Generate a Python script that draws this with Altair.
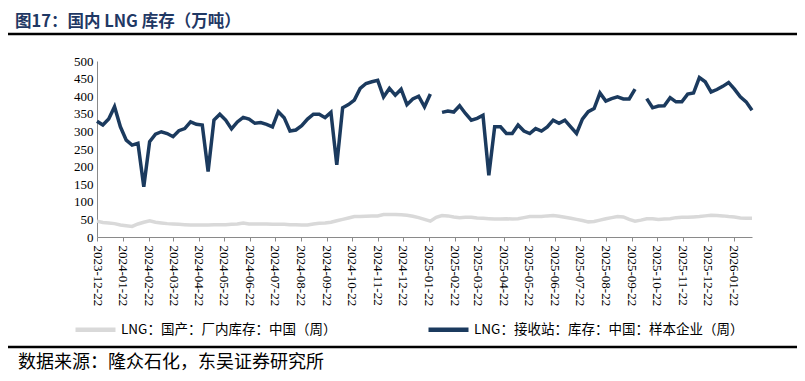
import altair as alt
import pandas as pd

dates = pd.date_range("2023-12-22", periods=113, freq="7D").strftime("%Y-%m-%d").tolist()

gray_name = "LNG：国产：厂内库存：中国（周）"
dark_name = "LNG：接收站：库存：中国：样本企业（周）"

gray_vals = [45, 41, 40, 38, 34, 32, 30, 37, 42, 46, 42, 40, 38, 37, 36, 35, 34, 34, 34, 34,
             35, 35, 35, 36, 37, 40, 37, 37, 37, 37, 36, 36, 36, 35, 35, 34, 34, 37, 39, 40,
             42, 46, 50, 54, 58, 58, 59, 60, 60, 64, 64, 64, 63, 62, 59, 55, 50, 45, 56, 61,
             60, 57, 55, 56, 56, 54, 53, 52, 51, 51, 52, 51, 52, 55, 58, 58, 58, 60, 61, 59,
             56, 53, 50, 47, 43, 44, 48, 52, 55, 58, 57, 50, 45, 48, 52, 52, 50, 51, 52, 55,
             56, 56, 57, 58, 60, 62, 61, 60, 58, 57, 54, 53, 53]

dark_vals = [329, 318, 335, 370, 313, 275, 261, 266, 143, 271, 292, 299, 294, 285, 302, 308,
             327, 320, 318, 186, 332, 349, 332, 307, 327, 340, 335, 323, 325, 320, 313, 356,
             339, 301, 304, 316, 335, 349, 349, 339, 354, 205, 367, 376, 389, 422, 436, 441,
             445, 398, 422, 403, 420, 376, 392, 400, 370, 406, None, 354, 358, 355, 373, 351,
             332, 337, 346, 175, 313, 313, 294, 294, 318, 301, 294, 308, 301, 313, 332, 323,
             332, 313, 294, 335, 356, 365, 409, 386, 393, 398, 392, 392, 420, None, 393, 367,
             372, 373, 396, 384, 384, 406, 409, 453, 441, 412, 419, 428, 439, 420, 398, 384, 360]

tick_dates = ["2023-12-22", "2024-01-22", "2024-02-22", "2024-03-22", "2024-04-22",
              "2024-05-22", "2024-06-22", "2024-07-22", "2024-08-22", "2024-09-22",
              "2024-10-22", "2024-11-22", "2024-12-22", "2025-01-22", "2025-02-22",
              "2025-03-22", "2025-04-22", "2025-05-22", "2025-06-22", "2025-07-22",
              "2025-08-22", "2025-09-22", "2025-10-22", "2025-11-22", "2025-12-22",
              "2026-01-22"]

y_ticks = [0, 50, 100, 150, 200, 250, 300, 350, 400, 450, 500]

title_text = "图17：国内 LNG 库存（万吨）"
source_text = "数据来源：隆众石化，东吴证券研究所"

rows = []
for d, v in zip(dates, gray_vals):
    rows.append({"date": d, "value": v, "series": gray_name})
for d, v in zip(dates, dark_vals):
    rows.append({"date": d, "value": v, "series": dark_name})
df = pd.DataFrame(rows)


def dt(s):
    y, m, d = s.split("-")
    return alt.DateTime(year=int(y), month=int(m), date=int(d), utc=True)


lines = alt.Chart(df).mark_line(strokeWidth=3.5, invalid="break-paths-filter-domains").encode(
    x=alt.X("date:T",
            scale=alt.Scale(type="utc", domain=[dt("2023-12-22"), dt("2026-02-13")]),
            axis=alt.Axis(values=[dt(s) for s in tick_dates], format="%Y-%m-%d",
                          labelAngle=90, labelAlign="left", labelBaseline="middle",
                          labelPadding=4, tickSize=4, tickColor="#8a8a8a",
                          domainColor="#8a8a8a", labelFont="Liberation Serif",
                          labelFontSize=13, labelColor="#000000", grid=False,
                          title=None, labelOverlap=False, labelFlush=False)),
    y=alt.Y("value:Q",
            scale=alt.Scale(domain=[0, 500], nice=False),
            axis=alt.Axis(values=y_ticks, tickSize=0, labelPadding=4,
                          domainColor="#8a8a8a", labelFont="Liberation Serif",
                          labelFontSize=13, labelColor="#000000", grid=False,
                          title=None)),
    color=alt.Color("series:N",
                    scale=alt.Scale(domain=[gray_name, dark_name],
                                    range=["#d9d9d9", "#1b3a5e"]),
                    legend=alt.Legend(orient="none", legendX=-24, legendY=246,
                                      direction="horizontal", title=None,
                                      symbolType="stroke", symbolSize=1600,
                                      symbolStrokeWidth=4.5, labelFont="Noto Sans CJK SC",
                                      labelFontSize=13.5, labelColor="#000000",
                                      labelLimit=400,
                                      columnPadding=82, labelOffset=3)),
)

title_df = pd.DataFrame({"t": [title_text]})
title_mark = alt.Chart(title_df).mark_text(
    align="left", baseline="middle", font="Noto Sans CJK SC", fontSize=16.5,
    fontWeight="bold", color="#1f3864"
).encode(x=alt.value(-82), y=alt.value(-39), text="t:N")

source_df = pd.DataFrame({"t": [source_text]})
source_mark = alt.Chart(source_df).mark_text(
    align="left", baseline="middle", font="Noto Sans CJK SC", fontSize=18,
    color="#000000"
).encode(x=alt.value(-79), y=alt.value(302), text="t:N")

rule_df = pd.DataFrame({"k": [0]})
top_rule = alt.Chart(rule_df).mark_rule(color="#000000", strokeWidth=2.5).encode(
    x=alt.value(-92), x2=alt.value(703), y=alt.value(-27))
bottom_rule = alt.Chart(rule_df).mark_rule(color="#000000", strokeWidth=2.5).encode(
    x=alt.value(-92), x2=alt.value(703), y=alt.value(286))

chart = alt.layer(lines, title_mark, source_mark, top_rule, bottom_rule).properties(
    width=655, height=176,
    autosize=alt.AutoSizeParams(type="none"),
    padding={"left": 89, "top": 53, "right": 45, "bottom": 136},
    background="#ffffff",
).configure_view(stroke=None)

chart.save("out.html", embed_options={"renderer": "svg", "actions": False})
